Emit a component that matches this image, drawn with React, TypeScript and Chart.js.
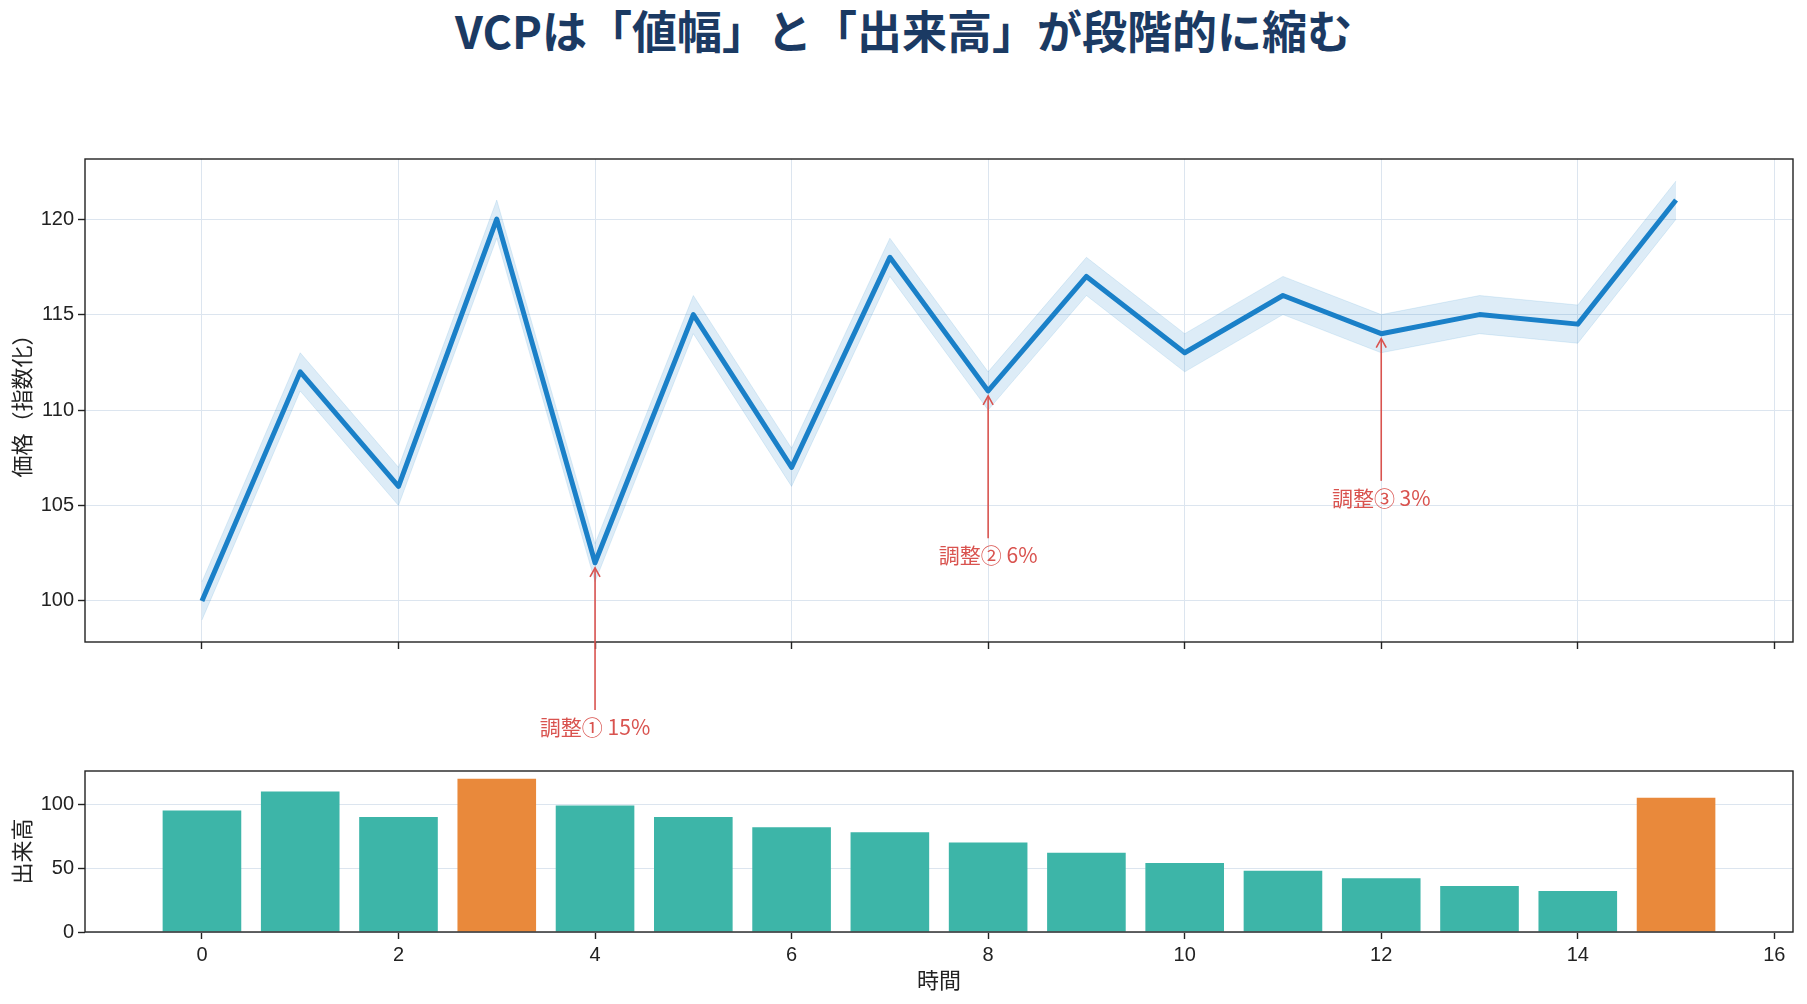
import { useEffect, useRef } from "react";
import { Chart, registerables } from "chart.js";

Chart.register(...registerables);

// ---- data ----
const TIME = [0, 1, 2, 3, 4, 5, 6, 7, 8, 9, 10, 11, 12, 13, 14, 15];
const PRICE = [100, 112, 106, 120, 102, 115, 107, 118, 111, 117, 113, 116, 114, 115, 114.5, 121];
const PRICE_UPPER = [101, 113, 107, 121, 103, 116, 108, 119, 112, 118, 114, 117, 115, 116, 115.5, 122];
const PRICE_LOWER = [99, 111, 105, 119, 101, 114, 106, 117, 110, 116, 112, 115, 113, 114, 113.5, 120];
const VOLUME = [95, 110, 90, 120, 99, 90, 82, 78, 70, 62, 54, 48, 42, 36, 32, 105];
const VOLUME_SPIKES = [3, 15];
const NOTE_INDEX = [4, 8, 12];
const NOTE_LABELS = ["調整① 15%", "調整② 6%", "調整③ 3%"];

const TITLE = "VCPは「値幅」と「出来高」が段階的に縮む";

// ---- styles ----
const W = 1807;
const LINE = "#1a80c8";
const BAND_FILL = "rgba(26, 128, 200, 0.15)";
const BAND_EDGE = "rgba(26, 128, 200, 0.12)";
const TEAL = "#3db5a8";
const ORANGE = "#e9893b";
const GRID = "#dce5ef";
const AXIS = "#222222";
const NOTE_COLOR = "#d9534f";
const NOTE_DROP = 8.6; // label sits this far below the swing low (data units)
const TICK_FONT = "'Liberation Sans Narrow', 'Liberation Sans', 'Noto Sans CJK JP', sans-serif";
const CJK_FONT = "'Noto Sans CJK JP', 'Noto Sans', sans-serif";

const X_MIN = -1.19;
const X_MAX = 16.19;

// box around the plot area, like matplotlib spines
const framePlugin = {
  id: "frame",
  afterDraw(chart: Chart) {
    const { ctx, chartArea: a } = chart;
    ctx.save();
    ctx.strokeStyle = AXIS;
    ctx.lineWidth = 1.4;
    ctx.strokeRect(a.left, a.top, a.right - a.left, a.bottom - a.top);
    ctx.restore();
  },
};

// red arrows + labels pointing at each contraction low
const notesPlugin = {
  id: "vcpNotes",
  afterDraw(chart: Chart) {
    const { ctx } = chart;
    const xs = chart.scales.x;
    const ys = chart.scales.y;
    ctx.save();
    NOTE_INDEX.forEach((idx, k) => {
      const px = xs.getPixelForValue(TIME[idx]);
      const py = ys.getPixelForValue(PRICE[idx]);
      const ty = ys.getPixelForValue(PRICE[idx] - NOTE_DROP);
      const tail = ty - 17;
      const tip = py + 5;

      ctx.strokeStyle = NOTE_COLOR;
      ctx.lineWidth = 1.6;
      ctx.beginPath();
      ctx.moveTo(px, tail);
      ctx.lineTo(px, tip);
      ctx.stroke();
      ctx.beginPath();
      ctx.moveTo(px - 5, tip + 9);
      ctx.lineTo(px, tip);
      ctx.lineTo(px + 5, tip + 9);
      ctx.stroke();

      ctx.fillStyle = NOTE_COLOR;
      ctx.font = `21px ${CJK_FONT}`;
      ctx.textAlign = "center";
      ctx.textBaseline = "middle";
      ctx.fillText(NOTE_LABELS[k], px, ty);
    });
    ctx.restore();
  },
};

const tickFont = { family: TICK_FONT, size: 20 };
const titleFont = { family: CJK_FONT, size: 22 };

export default function App() {
  const topRef = useRef<HTMLCanvasElement>(null);
  const botRef = useRef<HTMLCanvasElement>(null);

  useEffect(() => {
    if (!topRef.current || !botRef.current) return;

    const priceChart = new Chart(topRef.current, {
      type: "line",
      data: {
        datasets: [
          {
            label: "価格",
            data: TIME.map((t, i) => ({ x: t, y: PRICE[i] })),
            borderColor: LINE,
            borderWidth: 5,
            borderJoinStyle: "round",
            pointRadius: 0,
            tension: 0,
            fill: false,
            order: 0,
          },
          {
            label: "上限",
            data: TIME.map((t, i) => ({ x: t, y: PRICE_UPPER[i] })),
            borderColor: BAND_EDGE,
            borderWidth: 1,
            backgroundColor: BAND_FILL,
            pointRadius: 0,
            tension: 0,
            fill: "+1",
            order: 1,
          },
          {
            label: "下限",
            data: TIME.map((t, i) => ({ x: t, y: PRICE_LOWER[i] })),
            borderColor: BAND_EDGE,
            borderWidth: 1,
            pointRadius: 0,
            tension: 0,
            fill: false,
            order: 1,
          },
        ],
      },
      options: {
        responsive: false,
        animation: false,
        layout: { padding: { left: 0, right: 14, top: 19, bottom: 0 } },
        plugins: { legend: { display: false }, tooltip: { enabled: false } },
        scales: {
          x: {
            type: "linear",
            min: X_MIN,
            max: X_MAX,
            afterFit: (s: any) => {
              s.height = 108;
            },
            border: { display: false },
            grid: { color: GRID, lineWidth: 1, tickColor: AXIS, tickLength: 7, tickWidth: 1.4 },
            ticks: { stepSize: 2, includeBounds: false, color: "rgba(0,0,0,0)", font: tickFont },
          },
          y: {
            min: 97.85,
            max: 123.15,
            afterFit: (s: any) => {
              s.width = 85;
            },
            border: { display: false },
            grid: { color: GRID, lineWidth: 1, tickColor: AXIS, tickLength: 7, tickWidth: 1.4 },
            ticks: { stepSize: 5, includeBounds: false, color: AXIS, font: tickFont, padding: 4 },
            title: {
              display: true,
              text: "価格（指数化）",
              color: AXIS,
              font: titleFont,
              padding: { top: 8, bottom: 0 },
            },
          },
        },
      },
      plugins: [framePlugin, notesPlugin],
    });

    const volumeChart = new Chart(botRef.current, {
      type: "bar",
      data: {
        datasets: [
          {
            label: "出来高",
            data: TIME.map((t, i) => ({ x: t, y: VOLUME[i] })),
            backgroundColor: TIME.map((_, i) => (VOLUME_SPIKES.includes(i) ? ORANGE : TEAL)),
            borderWidth: 0,
            barPercentage: 1,
            categoryPercentage: 0.8,
          },
        ],
      },
      options: {
        responsive: false,
        animation: false,
        layout: { padding: { left: 0, right: 14, top: 21, bottom: 0 } },
        plugins: { legend: { display: false }, tooltip: { enabled: false } },
        scales: {
          x: {
            type: "linear",
            min: X_MIN,
            max: X_MAX,
            offset: false,
            afterFit: (s: any) => {
              s.height = 72;
            },
            border: { display: false },
            grid: { offset: false, color: "rgba(0,0,0,0)", tickColor: AXIS, tickLength: 7, tickWidth: 1.4 },
            ticks: { stepSize: 2, includeBounds: false, color: AXIS, font: tickFont, padding: 4 },
            title: {
              display: true,
              text: "時間",
              color: AXIS,
              font: titleFont,
              padding: { top: 0, bottom: 11 },
            },
          },
          y: {
            min: 0,
            max: 126,
            z: 1,
            afterFit: (s: any) => {
              s.width = 85;
            },
            border: { display: false },
            grid: { color: GRID, lineWidth: 1, tickColor: AXIS, tickLength: 7, tickWidth: 1.4 },
            ticks: { stepSize: 50, includeBounds: false, color: AXIS, font: tickFont, padding: 4 },
            title: {
              display: true,
              text: "出来高",
              color: AXIS,
              font: titleFont,
              padding: { top: 8, bottom: 0 },
            },
          },
        },
      },
      plugins: [framePlugin],
    });

    return () => {
      priceChart.destroy();
      volumeChart.destroy();
    };
  }, []);

  return (
    <div
      style={{
        position: "fixed",
        left: 0,
        top: 0,
        width: W,
        height: 1004,
        background: "#ffffff",
        overflow: "hidden",
      }}
    >
      <div
        style={{
          position: "absolute",
          left: 0,
          top: 7,
          width: W,
          textAlign: "center",
          fontFamily: CJK_FONT,
          fontWeight: 700,
          fontSize: 45,
          lineHeight: "45px",
          color: "#1b3a63",
        }}
      >
        {TITLE}
      </div>
      <canvas
        ref={topRef}
        width={W}
        height={610}
        style={{ position: "absolute", left: 0, top: 140, width: W, height: 610 }}
      />
      <canvas
        ref={botRef}
        width={W}
        height={254}
        style={{ position: "absolute", left: 0, top: 750, width: W, height: 254 }}
      />
    </div>
  );
}
